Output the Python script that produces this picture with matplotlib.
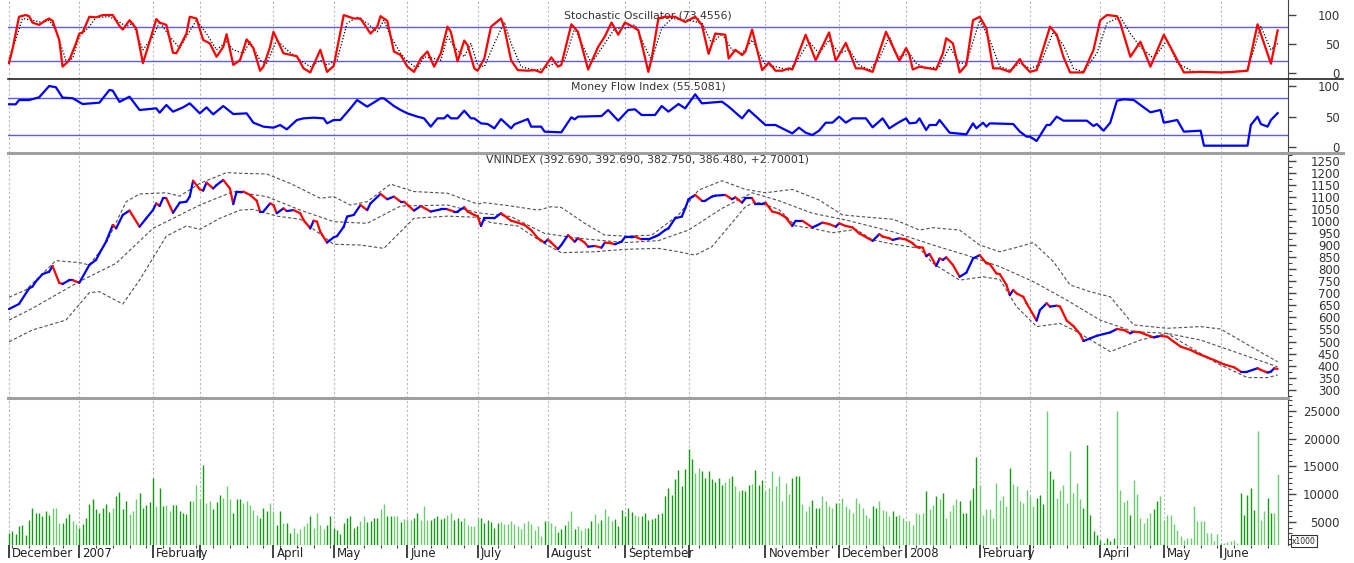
import numpy as np
import matplotlib
matplotlib.use("Agg")
import matplotlib.pyplot as plt
from matplotlib.collections import LineCollection
from matplotlib.lines import Line2D
from matplotlib.transforms import blended_transform_factory

# trading-day index of each month start, and the month labels
month_start = [0, 21, 43, 57, 79, 97, 119, 140, 161, 184, 203, 226, 248, 268, 290, 305, 326, 345, 362]
month_label = ["December", "2007", "February", "", "April", "May", "June", "July", "August",
               "September", "", "November", "December", "2008", "February", "", "April", "May", "June"]

# VNINDEX close (day index, value)
px_day = [0, 3, 6, 7, 8, 10, 12, 13, 15, 16,
          18, 19, 21, 24, 26, 27, 29, 31, 32, 34,
          36, 39, 41, 43, 44, 45, 46, 47, 49, 51,
          53, 54, 55, 57, 58, 59, 61, 62, 64, 66,
          67, 68, 70, 72, 74, 75, 76, 78, 79, 80,
          82, 83, 85, 87, 88, 90, 91, 92, 93, 95,
          97, 98, 100, 101, 103, 105, 107, 108, 111, 113,
          115, 117, 118, 121, 123, 126, 129, 131, 133, 134,
          136, 137, 139, 140, 141, 142, 143, 145, 147, 148,
          150, 152, 154, 156, 158, 160, 161, 162, 164, 165,
          167, 169, 170, 172, 173, 175, 177, 178, 180, 181,
          183, 184, 186, 187, 189, 191, 193, 194, 196, 197,
          199, 201, 202, 203, 205, 207, 208, 210, 211, 214,
          216, 217, 219, 220, 222, 223, 225, 226, 228, 230,
          232, 234, 235, 237, 240, 241, 243, 245, 247, 248,
          250, 252, 254, 255, 258, 260, 261, 263, 264, 266,
          268, 270, 271, 273, 274, 275, 277, 278, 279, 280,
          282, 284, 286, 288, 290, 292, 293, 295, 296, 298,
          299, 300, 301, 303, 304, 307, 308, 310, 311, 313,
          314, 316, 318, 320, 321, 323, 325, 327, 329, 331,
          333, 335, 336, 338, 340, 342, 344, 346, 348, 350,
          353, 355, 358, 360, 363, 366, 368, 370, 373, 374,
          376, 377, 378, 379]
px_close = [635, 656, 721, 728, 749, 780, 790, 814, 744, 739,
            755, 755, 744, 818, 839, 866, 915, 984, 970, 1026,
            1044, 977, 1012, 1046, 1074, 1063, 1095, 1095, 1035, 1077,
            1081, 1102, 1168, 1132, 1127, 1160, 1136, 1150, 1171, 1136,
            1071, 1123, 1123, 1109, 1085, 1040, 1040, 1074, 1067, 1033,
            1053, 1042, 1046, 1033, 1005, 970, 1002, 998, 956, 911,
            933, 938, 977, 1019, 1026, 1067, 1046, 1074, 1113, 1091,
            1102, 1081, 1081, 1044, 1063, 1040, 1049, 1049, 1040, 1040,
            1058, 1040, 1026, 1021, 980, 1012, 1012, 1012, 1033, 1023,
            1002, 994, 984, 963, 929, 911, 924, 911, 884, 901,
            942, 915, 929, 911, 894, 897, 890, 911, 908, 904,
            915, 933, 933, 936, 924, 924, 936, 942, 963, 970,
            1012, 1019, 1053, 1091, 1109, 1085, 1085, 1102, 1106, 1109,
            1091, 1099, 1077, 1095, 1095, 1071, 1071, 1077, 1040, 1033,
            1016, 980, 1002, 1002, 974, 980, 994, 988, 977, 991,
            980, 974, 949, 942, 918, 946, 936, 929, 922, 929,
            924, 908, 894, 890, 855, 864, 814, 845, 839, 850,
            818, 769, 786, 845, 859, 825, 822, 783, 780, 735,
            693, 714, 700, 686, 659, 587, 631, 659, 645, 649,
            645, 587, 564, 531, 502, 513, 524, 531, 538, 552,
            548, 534, 541, 538, 527, 517, 523, 520, 499, 479,
            465, 451, 434, 423, 405, 393, 375, 375, 389, 382,
            371, 375, 389, 386]

# Bollinger bands
bb_up_day = [0, 5, 14, 21, 24, 29, 35, 39, 47, 51, 57, 65, 69, 77, 84, 93, 97, 102, 107, 114,
             121, 131, 140, 142, 150, 158, 162, 165, 172, 178, 184, 192, 200, 206, 213, 220, 226, 234, 242, 249,
             257, 264, 266, 272, 276, 284, 290, 296, 301, 306, 312, 317, 323, 329, 336, 346, 356, 362, 371, 379]
bb_up = [684, 714, 836, 828, 818, 908, 1081, 1113, 1118, 1104, 1157, 1202, 1199, 1196, 1157, 1095, 1102, 1067, 1081, 1154,
         1123, 1116, 1071, 1077, 1063, 1046, 1060, 1057, 991, 942, 938, 942, 1026, 1129, 1168, 1132, 1118, 1132, 1088, 1026,
         1016, 1008, 998, 963, 973, 963, 901, 873, 891, 911, 832, 735, 707, 686, 569, 555, 562, 552, 479, 416]
bb_mid_day = [0, 7, 21, 32, 43, 57, 67, 77, 87, 97, 107, 117, 131, 140, 150, 160, 170, 184, 194, 203,
              213, 222, 230, 240, 250, 264, 276, 286, 296, 306, 316, 326, 336, 346, 356, 366, 379]
bb_mid = [589, 638, 749, 825, 970, 1067, 1123, 1102, 1046, 998, 991, 1063, 1067, 1035, 1019, 949, 929, 911, 919, 963,
          1053, 1118, 1085, 1033, 1005, 956, 901, 859, 811, 749, 672, 589, 541, 534, 506, 458, 395]
bb_lo_day = [0, 7, 17, 24, 27, 34, 39, 47, 53, 57, 63, 69, 73, 80, 87, 97, 105, 112, 121, 131,
             140, 144, 152, 159, 165, 175, 184, 194, 200, 205, 210, 215, 220, 223, 230, 235, 240, 246, 253, 258,
             264, 272, 276, 284, 291, 296, 301, 307, 314, 319, 329, 338, 346, 351, 361, 370, 376, 379]
bb_lo = [499, 548, 589, 703, 707, 656, 755, 938, 980, 966, 1012, 1046, 1049, 1021, 1008, 904, 901, 887, 1012, 1021,
         1016, 994, 980, 915, 869, 873, 883, 887, 873, 859, 894, 977, 1060, 1081, 1049, 980, 970, 952, 966, 922,
         905, 887, 825, 755, 769, 758, 645, 562, 575, 541, 458, 506, 534, 492, 409, 350, 350, 361]

# Stochastic %K
st_day = [0, 1, 3, 5, 6, 7, 9, 11, 12, 13, 15, 16, 18, 20, 21, 22, 24, 26, 28, 31,
          33, 34, 36, 38, 40, 42, 44, 45, 47, 49, 50, 53, 54, 56, 58, 60, 62, 64, 65, 67,
          69, 71, 73, 75, 76, 78, 79, 82, 86, 88, 90, 91, 93, 95, 97, 100, 103, 105, 108, 110,
          111, 113, 115, 117, 119, 121, 123, 125, 127, 129, 131, 132, 134, 136, 137, 139, 140, 142, 144, 147,
          148, 150, 152, 155, 157, 159, 162, 164, 165, 168, 170, 173, 176, 178, 180, 182, 184, 186, 188, 189,
          191, 192, 194, 196, 199, 202, 205, 207, 209, 211, 214, 215, 217, 219, 220, 222, 225, 227, 229, 231,
          233, 234, 238, 241, 245, 247, 250, 253, 255, 258, 262, 266, 268, 269, 270, 272, 277, 279, 280, 282,
          284, 286, 288, 290, 292, 294, 296, 299, 302, 303, 305, 307, 311, 313, 315, 317, 321, 324, 326, 328,
          331, 332, 335, 338, 341, 345, 351, 356, 362, 366, 370, 373, 377, 379]
st_k = [17, 40, 97, 100, 98, 87, 83, 91, 94, 90, 57, 11, 22, 51, 68, 70, 97, 96, 100, 100,
        81, 75, 91, 77, 17, 54, 93, 87, 83, 35, 34, 68, 97, 94, 57, 51, 28, 45, 67, 14,
        22, 58, 43, 4, 11, 45, 71, 34, 29, 8, 1, 14, 40, 2, 12, 100, 94, 94, 68, 80,
        98, 90, 37, 31, 11, 2, 25, 37, 11, 34, 80, 71, 20, 56, 48, 8, 4, 25, 80, 94,
        77, 22, 5, 4, 5, 1, 27, 11, 14, 84, 71, 6, 45, 63, 87, 66, 87, 81, 74, 51,
        2, 25, 94, 97, 97, 88, 97, 83, 33, 68, 66, 25, 40, 31, 37, 75, 5, 18, 4, 4,
        8, 6, 66, 22, 70, 21, 52, 8, 8, 2, 71, 21, 43, 31, 6, 11, 6, 34, 60, 51,
        1, 14, 91, 97, 77, 8, 8, 2, 24, 14, 2, 5, 80, 66, 28, 1, 1, 40, 91, 100,
        98, 86, 28, 54, 11, 66, 1, 2, 1, 2, 4, 84, 16, 73.5]

# Stochastic %D (dotted)
sd_day = [0, 2, 4, 7, 10, 12, 14, 17, 19, 21, 24, 26, 30, 33, 35, 37, 40, 43, 45, 48,
          51, 53, 56, 59, 62, 65, 67, 70, 72, 75, 77, 80, 83, 87, 90, 93, 95, 98, 101, 104,
          107, 110, 112, 114, 117, 119, 122, 124, 127, 129, 131, 133, 136, 138, 140, 142, 145, 148, 150, 153,
          157, 160, 163, 166, 169, 172, 174, 178, 181, 184, 187, 190, 192, 195, 198, 203, 207, 210, 213, 216,
          219, 222, 226, 229, 233, 235, 239, 242, 245, 248, 251, 254, 257, 260, 263, 265, 266, 269, 271, 274,
          278, 281, 284, 286, 290, 293, 296, 299, 302, 305, 308, 312, 315, 318, 321, 325, 328, 332, 335, 338,
          342, 346, 349, 354, 362, 370, 374, 377, 379]
st_d = [25, 57, 94, 91, 87, 91, 74, 22, 25, 63, 80, 96, 97, 88, 80, 86, 40, 63, 88, 63,
        43, 63, 91, 68, 40, 54, 40, 34, 54, 22, 17, 57, 40, 22, 11, 22, 14, 22, 86, 96,
        86, 71, 91, 63, 34, 20, 8, 28, 25, 22, 63, 45, 28, 51, 14, 11, 51, 88, 51, 11,
        5, 8, 17, 22, 77, 40, 17, 51, 77, 77, 83, 45, 22, 77, 94, 91, 86, 51, 68, 40,
        34, 57, 14, 11, 5, 17, 54, 34, 57, 34, 40, 14, 5, 25, 63, 34, 28, 34, 17, 8,
        11, 45, 17, 17, 91, 57, 11, 5, 17, 8, 14, 71, 48, 8, 2, 34, 86, 97, 68, 45,
        25, 57, 17, 2, 1, 5, 80, 40, 51]

# Money Flow Index
mf_day = [0, 2, 3, 6, 9, 12, 14, 16, 19, 22, 27, 30, 31, 33, 36, 39, 44, 45, 47, 49,
          52, 54, 57, 59, 61, 64, 67, 71, 73, 76, 79, 81, 83, 86, 88, 91, 94, 95, 97, 99,
          102, 104, 107, 111, 112, 115, 117, 119, 122, 124, 126, 128, 130, 131, 132, 134, 136, 138, 139, 141,
          143, 145, 147, 150, 151, 155, 156, 159, 160, 165, 168, 169, 170, 177, 179, 182, 185, 187, 189, 193,
          195, 197, 200, 202, 205, 207, 213, 215, 219, 221, 226, 229, 231, 234, 236, 238, 240, 242, 244, 246,
          248, 250, 252, 256, 258, 261, 263, 265, 266, 268, 269, 271, 272, 274, 275, 277, 278, 281, 286, 288,
          289, 291, 292, 293, 300, 302, 304, 305, 307, 310, 311, 313, 315, 322, 324, 325, 327, 329, 331, 333,
          336, 339, 341, 344, 345, 349, 351, 356, 357, 370, 371, 373, 374, 376, 377, 379]
mfi = [70, 70, 77, 77, 81.5, 100, 98, 81, 80, 70.5, 72.7, 93.5, 92.4, 74, 82.5, 60.7, 63.4, 56.3, 68.9, 58,
       65, 71.6, 55.2, 65, 53.6, 67.2, 54.1, 55.2, 39.9, 33.4, 31.7, 36.1, 29, 44.3, 47, 48.1, 47, 38.8, 44.3, 44.3,
       63.4, 77, 66.2, 79.8, 79.8, 67.2, 60.7, 55.2, 49.8, 47, 33.4, 47, 47, 52.5, 47, 47, 59.6, 47, 47, 38.8,
       37.7, 30.6, 45.9, 30.6, 37.2, 45.9, 33.4, 33.4, 25.2, 24.1, 48.7, 45.4, 49.8, 50.8, 60.7, 43.2, 60.7, 61.8, 52.5, 52.5,
       67.2, 58, 70.5, 63.4, 86.4, 71.6, 74.3, 66.2, 47, 60.7, 36.1, 36.1, 30.6, 22.4, 31.7, 23.5, 19.7, 26.8, 39.9, 39.9,
       49.8, 39.9, 47, 47, 32.3, 47, 30.6, 37.7, 41, 47, 38.8, 39.9, 47, 27.9, 36.1, 36.1, 44.3, 23.5, 20.8, 38.8,
       30.6, 39.9, 33.4, 38.8, 37.7, 25.2, 17, 17, 9.9, 36.1, 36.1, 49.8, 43.2, 43.2, 34.5, 37.7, 26.8, 39.9, 76, 78.2,
       77.1, 65, 56.9, 60.7, 39.9, 44.3, 25.2, 26.8, 2.2, 2.2, 36.1, 49.8, 37.7, 33.4, 44.3, 55.5]

# volume (x1000), one value per trading day
volume = [3100, 3300, 2800, 4200, 4500, 2700, 5400, 7500, 6600, 6600,
          6100, 7000, 6300, 7600, 7500, 4900, 4900, 5700, 6400, 5200,
          4600, 4000, 4600, 5700, 8200, 9100, 7300, 6600, 7500, 8200,
          6800, 7500, 9700, 10400, 7300, 8800, 6400, 7000, 9100, 10300,
          7600, 8000, 8600, 13000, 7800, 11200, 7800, 8000, 7000, 8100,
          8100, 7000, 6600, 6400, 8800, 8700, 11600, 9100, 15200, 8500,
          8800, 7400, 8600, 9900, 9400, 11400, 9100, 6600, 9100, 9100,
          8400, 8800, 8000, 7200, 6300, 5700, 7600, 7000, 8400, 7000,
          4500, 6900, 4900, 4800, 3000, 4000, 3100, 3700, 4300, 4900,
          6000, 4000, 6600, 4500, 3700, 4500, 6100, 4000, 3600, 2800,
          4800, 5800, 6100, 4000, 4300, 5200, 6100, 5000, 5200, 5700,
          5700, 7300, 8200, 6000, 6100, 6000, 6100, 5000, 5500, 5500,
          5400, 5700, 6600, 5400, 7800, 5400, 5400, 5800, 6100, 5500,
          5800, 6300, 6600, 5400, 5700, 5100, 5700, 4500, 4200, 4300,
          5700, 5700, 4900, 5400, 5000, 4000, 4900, 5000, 4600, 4600,
          5200, 4600, 4300, 3800, 4800, 5200, 4600, 3600, 4200, 2400,
          5100, 5100, 4900, 4200, 3200, 3700, 4400, 5100, 7000, 3800,
          4200, 3600, 3900, 4000, 5200, 6400, 4900, 5400, 7300, 6000,
          5200, 5500, 4200, 7200, 6000, 7600, 6800, 6300, 6100, 6100,
          6600, 5400, 5500, 5800, 6400, 6600, 9700, 11100, 9900, 12700,
          14400, 11400, 14500, 18100, 16300, 13900, 14800, 14200, 12900, 14200,
          12700, 12200, 13000, 11700, 12200, 12900, 13300, 11500, 10600, 10800,
          10600, 11700, 11800, 14400, 11700, 12600, 10600, 11100, 14200, 11500,
          13300, 8800, 12000, 10000, 13000, 13200, 13300, 8200, 6900, 7900,
          9000, 7500, 7600, 9700, 8700, 7800, 7600, 8500, 8400, 9400,
          7900, 7300, 6700, 9300, 8400, 7600, 6300, 5700, 7800, 7600,
          8700, 7200, 6900, 6100, 6900, 6000, 6300, 5700, 5200, 5100,
          4500, 6600, 6400, 6700, 10600, 7400, 8100, 9700, 9100, 10300,
          5800, 7000, 8100, 9100, 8700, 6600, 6700, 9000, 11200, 16700,
          11600, 6300, 7300, 7400, 5800, 12100, 9000, 9700, 7800, 14800,
          11800, 11500, 8800, 8500, 10700, 9600, 7900, 9400, 9800, 8200,
          24900, 14200, 12700, 9400, 10800, 11700, 8500, 17800, 10200, 12000,
          9100, 7500, 18800, 6300, 3400, 2700, 1800, 1200, 2100, 1600,
          2200, 24900, 10800, 8600, 9000, 6200, 12600, 10000, 5800, 4800,
          5700, 6600, 7300, 8700, 9600, 5400, 6200, 6200, 4600, 3600,
          2500, 1800, 2200, 2200, 7900, 5100, 5100, 5100, 3000, 3100,
          1600, 2800, 1200, 1300, 1400, 1500, 1800, 1300, 10300, 6300,
          9900, 11200, 7200, 21400, 5400, 7000, 9400, 6600, 6600, 13600]

W, H = 1354, 563
fig = plt.figure(figsize=(W / 100, H / 100), dpi=100)
fig.patch.set_facecolor("white")


def panel(top, bottom):
    return fig.add_axes([8 / W, 1 - bottom / H, 1280 / W, (bottom - top) / H])


ax_st = panel(0, 79)
ax_mf = panel(79, 153)
ax_px = panel(153, 398)
ax_vo = panel(398, 545)
axes = [ax_st, ax_mf, ax_px, ax_vo]

ax_st.set_ylim(-10.3, 125.9)
ax_mf.set_ylim(-9.8, 111.5)
ax_px.set_ylim(265.4, 1283.2)
ax_vo.set_ylim(863, 27302)

ax_st.set_yticks([0, 50, 100])
ax_mf.set_yticks([0, 50, 100])
ax_px.set_yticks(np.arange(300, 1251, 50))
ax_px.set_yticks(np.arange(275, 1276, 25), minor=True)
ax_vo.set_yticks(np.arange(5000, 25001, 5000))
ax_vo.set_yticks(np.arange(1000, 27001, 1000), minor=True)

for ax in axes:
    ax.set_xlim(-0.3, 382.1)
    for s in ["left", "top", "bottom"]:
        ax.spines[s].set_visible(False)
    ax.spines["right"].set_color("#444444")
    ax.yaxis.tick_right()
    ax.tick_params(axis="y", which="major", length=6, width=1, color="#444444",
                   labelsize=8.5, labelcolor="#333333", pad=31.5)
    ax.tick_params(axis="y", which="minor", length=3, width=0.8, color="#444444")
    plt.setp(ax.get_yticklabels(), ha="right")
    if ax is not ax_vo:
        ax.tick_params(axis="x", bottom=False, labelbottom=False)
    for d in month_start:
        ax.axvline(d, color="#b8b8b8", lw=0.8, ls=(0, (2, 2)), zorder=0)

# stochastic panel
for lev in (20, 80):
    ax_st.axhline(lev, color="#5a5aff", lw=1, zorder=1)
ax_st.plot(sd_day, st_d, color="black", lw=0.9, ls=(0, (1, 1.5)), zorder=2)
ax_st.plot(st_day, st_k, color="#ff0000", lw=1.6, zorder=3)
ax_st.text(0.5, 0.81, "Stochastic Oscillator (73.4556)", transform=ax_st.transAxes,
           ha="center", va="center", fontsize=7.8, color="#333333", zorder=1)

# money flow panel
for lev in (20, 80):
    ax_mf.axhline(lev, color="#5a5aff", lw=1, zorder=1)
ax_mf.plot(mf_day, mfi, color="#0000ff", lw=1.6, zorder=3)
ax_mf.text(0.5, 0.89, "Money Flow Index (55.5081)", transform=ax_mf.transAxes,
           ha="center", va="center", fontsize=7.8, color="#333333")

# price panel
for d, v in ((bb_up_day, bb_up), (bb_mid_day, bb_mid), (bb_lo_day, bb_lo)):
    ax_px.plot(d, v, color="#505050", lw=0.8, ls=(0, (3, 2)), zorder=2)
pts = np.column_stack([px_day, px_close])
segs = np.stack([pts[:-1], pts[1:]], axis=1)
up = np.diff(px_close) >= 0
lc = LineCollection(segs, colors=np.where(up, "#0000ff", "#ff0000"), linewidths=1.6,
                    capstyle="round", zorder=3)
ax_px.add_collection(lc)
ax_px.text(0.5, 0.975, "VNINDEX (392.690, 392.690, 382.750, 386.480, +2.70001)",
           transform=ax_px.transAxes, ha="center", va="center", fontsize=7.8, color="#333333")

# volume panel
days = np.arange(len(volume))
seg = np.clip(np.searchsorted(px_day, days, side="right") - 1, 0, len(px_day) - 2)
rising = np.array(px_close)[seg + 1] >= np.array(px_close)[seg]
ax_vo.vlines(days, 0, volume, colors=np.where(rising, "#129a12", "#6fcb6f"), lw=1.0, zorder=2)

ax_vo.set_xticks(month_start)
ax_vo.set_xticks(np.arange(1, len(volume), 5), minor=True)
ax_vo.tick_params(axis="x", which="major", length=9.5, width=1.2, color="#222222", labelbottom=False)
ax_vo.tick_params(axis="x", which="minor", length=2.5, width=0.8, color="#444444")
tr = blended_transform_factory(ax_vo.transData, ax_vo.transAxes)
for d, lab in zip(month_start, month_label):
    ax_vo.text(d + 0.9, -0.058, lab, transform=tr, ha="left", va="center",
               fontsize=8.5, color="#222222")

fig.text(1292 / W, 1 - 541 / H, "x1000", fontsize=5.5, ha="left", va="center", color="#222222",
         bbox=dict(boxstyle="square,pad=0.15", fc="white", ec="#333333", lw=0.8))

# panel separators
fig.add_artist(Line2D([8 / W, 1343 / W], [1 - 79 / H] * 2, color="#222222", lw=1.2))
fig.add_artist(Line2D([8 / W, 1343 / W], [1 - 153 / H] * 2, color="#a0a0a0", lw=2.2))
fig.add_artist(Line2D([8 / W, 1288 / W], [1 - 398 / H] * 2, color="#a0a0a0", lw=2.2))

fig.savefig("out.png", dpi=100)
